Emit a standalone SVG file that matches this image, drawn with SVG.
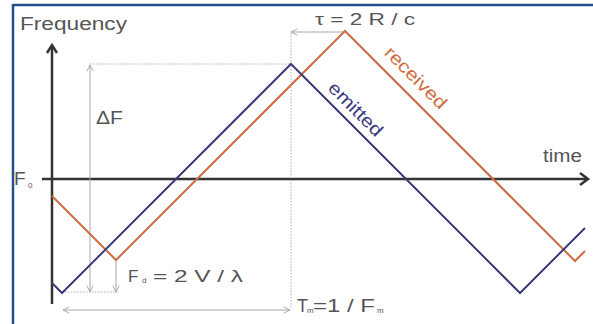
<svg xmlns="http://www.w3.org/2000/svg" width="593" height="324" viewBox="0 0 593 324">
  <defs>
    <marker id="dimArrow" viewBox="0 0 10 10" refX="9" refY="5" markerWidth="8" markerHeight="8" orient="auto-start-reverse" markerUnits="userSpaceOnUse">
      <path d="M1,1 L9,5 L1,9" fill="none" stroke="#a8a8a8" stroke-width="1.2"/>
    </marker>
  </defs>
  <style>
    .lbl { font-family: "Liberation Sans", Arial, sans-serif; fill: #555555; }
    .axis { stroke: #333333; stroke-width: 2.5; fill: none; }
    .dim { stroke: #a8a8a8; stroke-width: 1; fill: none; }
    .dot { stroke: #b0b0b0; stroke-width: 1; fill: none; stroke-dasharray: 1.5 1.5; }
    .emitted { stroke: #3b3b7d; stroke-width: 2; fill: none; stroke-linejoin: miter; }
    .received { stroke: #d06b3f; stroke-width: 2; fill: none; stroke-linejoin: miter; }
  </style>
  <rect x="0" y="0" width="593" height="324" fill="#ffffff"/>

  <!-- frame -->
  <g id="frame">
    <line x1="13" y1="5" x2="593" y2="5" stroke="#254f8f" stroke-width="2.5"/>
    <line x1="13" y1="4" x2="13" y2="324" stroke="#254f8f" stroke-width="2.5"/>
  </g>

  <!-- axes -->
  <g id="axes">
    <line class="axis" x1="52" y1="304" x2="52" y2="46"/>
    <path class="axis" d="M47,53 L52,45 L57,53"/>
    <line class="axis" x1="42" y1="179" x2="586" y2="179"/>
    <path class="axis" d="M580,173 L588,179 L580,185"/>
  </g>

  <!-- dimension and reference lines -->
  <g id="connectors">
    <line class="dot" x1="291" y1="33" x2="291" y2="307"/>
    <line class="dot" x1="90" y1="64" x2="290" y2="64"/>
    <line class="dot" x1="62" y1="292" x2="118" y2="292"/>
    <line class="dim" x1="291" y1="32" x2="344" y2="32" marker-start="url(#dimArrow)"/>
    <line class="dim" x1="90" y1="65" x2="90" y2="292" marker-start="url(#dimArrow)" marker-end="url(#dimArrow)"/>
    <line class="dim" x1="116" y1="261" x2="116" y2="292" marker-end="url(#dimArrow)"/>
    <line class="dim" x1="63" y1="310" x2="290" y2="310" marker-start="url(#dimArrow)" marker-end="url(#dimArrow)"/>
  </g>

  <!-- signals -->
  <g id="received-signal">
    <polyline class="received" points="52,196 116,260 345,31 575,261 585,251"/>
  </g>
  <g id="emitted-signal">
    <polyline class="emitted" points="52,283 62,293 291,64 520,293 585,228"/>
  </g>

  <!-- labels -->
  <g id="labels">
    <text class="lbl" x="20" y="30" font-size="18" textLength="107" lengthAdjust="spacingAndGlyphs">Frequency</text>
    <text class="lbl" x="543" y="162" font-size="18" textLength="39" lengthAdjust="spacingAndGlyphs">time</text>
    <text class="lbl" x="96" y="124" font-size="18" textLength="27" lengthAdjust="spacingAndGlyphs">ΔF</text>
    <text class="lbl" x="14" y="185" font-size="19">F</text>
    <text class="lbl" x="28" y="188" font-size="8">0</text>
    <text class="lbl" x="315" y="25" font-size="17" textLength="100" lengthAdjust="spacingAndGlyphs">τ = 2 R / c</text>
    <text class="lbl" x="128" y="282" font-size="17">F</text>
    <text class="lbl" x="142" y="283" font-size="8">d</text>
    <text class="lbl" x="153" y="282" font-size="17" textLength="90" lengthAdjust="spacingAndGlyphs">= 2 V / λ</text>
    <text class="lbl" x="297" y="312" font-size="18">T</text>
    <text class="lbl" x="307" y="313" font-size="8">m</text>
    <text class="lbl" x="313" y="312" font-size="18" textLength="62" lengthAdjust="spacingAndGlyphs">=1 / F</text>
    <text class="lbl" x="377" y="313" font-size="8">m</text>
    <text x="411.5" y="82" font-size="18" text-anchor="middle" transform="rotate(45 411.5 82)" font-family="'Liberation Sans', Arial, sans-serif" fill="#d06b3f" textLength="80" lengthAdjust="spacingAndGlyphs">received</text>
    <text x="351.5" y="113.5" font-size="18" text-anchor="middle" transform="rotate(45 351.5 113.5)" font-family="'Liberation Sans', Arial, sans-serif" fill="#3b3b7d" textLength="69" lengthAdjust="spacingAndGlyphs">emitted</text>
  </g>
</svg>
